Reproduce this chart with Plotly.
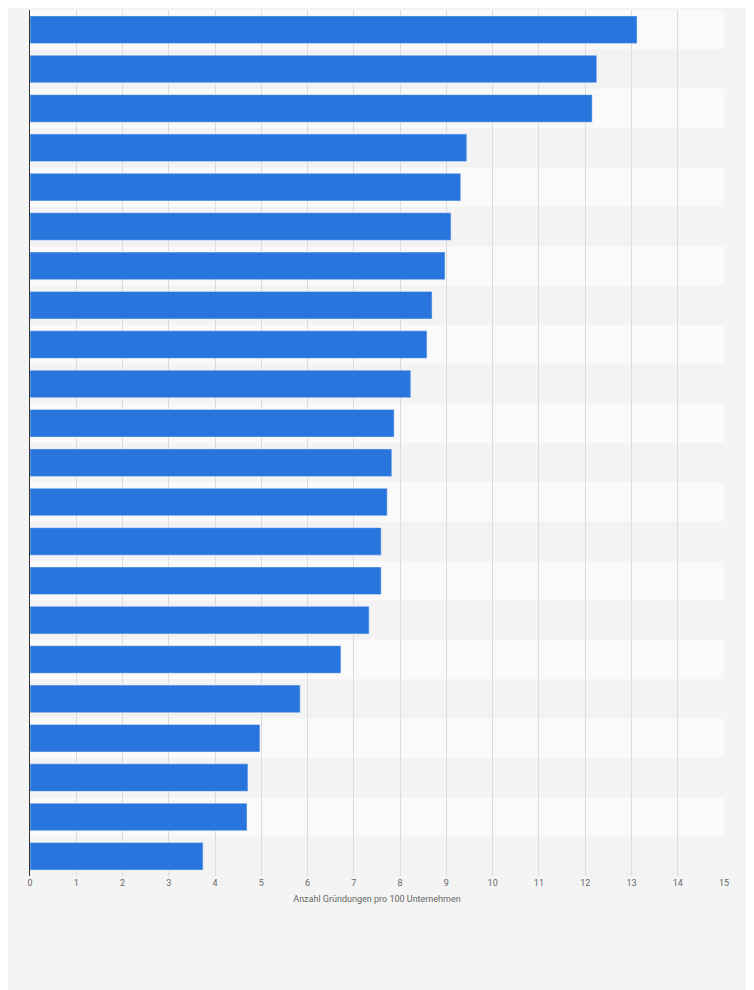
import plotly.graph_objects as go

categories = [str(i) for i in range(1, 23)]
values = [13.12, 12.25, 12.15, 9.44, 9.31, 9.10, 8.97, 8.69, 8.58, 8.23, 7.87,
          7.82, 7.72, 7.59, 7.59, 7.33, 6.72, 5.84, 4.97, 4.71, 4.69, 3.74]
x_ticks = list(range(0, 16))
x_title = "Anzahl Gründungen pro 100 Unternehmen"

fig = go.Figure(go.Bar(x=values, y=categories, orientation="h",
                       marker_color="#2876dd", width=0.7))

shapes = []
for i in range(len(categories)):
    shapes.append(dict(type="rect", xref="paper", yref="y", x0=0, x1=1,
                       y0=i - 0.5, y1=i + 0.5, layer="below", line_width=0,
                       fillcolor="#fafafa" if i % 2 == 0 else "#f3f3f3"))

fig.update_layout(
    width=754, height=990, margin=dict(l=22, r=38, t=2, b=122),
    paper_bgcolor="#f4f4f4", plot_bgcolor="rgba(0,0,0,0)",
    shapes=shapes, showlegend=False, bargap=0.3,
    font=dict(family="Roboto", color="#666"),
)
fig.update_xaxes(range=[0, 15], tickvals=x_ticks, showgrid=True, gridcolor="#dcdcdc",
                 zeroline=False, tickfont=dict(size=9, color="#666"),
                 title=dict(text=x_title, font=dict(size=9, color="#666"), standoff=8))
fig.update_yaxes(autorange="reversed", showticklabels=False, showline=True,
                 linecolor="#333", linewidth=1, range=[21.5, -0.5])
fig.write_html("out.html")
